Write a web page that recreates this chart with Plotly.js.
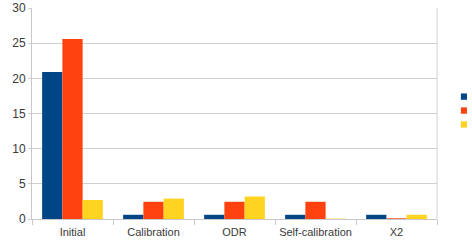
<!DOCTYPE html>
<html><head><meta charset="utf-8">
<script src="https://cdn.plot.ly/plotly-3.0.1.min.js"></script>
<style>html,body{margin:0;padding:0;background:#fff}#chart{width:472px;height:244px}</style>
</head><body><div id="chart"></div>
<script>
const categories = ["Initial", "Calibration", "ODR", "Self-calibration", "X2"];
const series1 = [20.9, 0.6, 0.6, 0.6, 0.6];
const series2 = [25.6, 2.45, 2.45, 2.45, 0.1];
const series3 = [2.7, 2.9, 3.2, 0.05, 0.6];
const seriesNames = ["", "", ""];
const colors = ["#004586", "#ff420e", "#ffd320"];

const data = [series1, series2, series3].map((v, i) => ({
  type: "bar", x: categories, y: v, name: seriesNames[i],
  marker: {color: colors[i], line: {width: 0}}, showlegend: false
}));

const shapes = colors.map((c, i) => ({
  type: "rect", xref: "paper", yref: "paper",
  x0: 1.059, x1: 1.074,
  y0: 0.565 - i * 0.066, y1: 0.565 - i * 0.066 + 0.03,
  fillcolor: c, line: {width: 0}
}));
shapes.push({type: "line", xref: "paper", yref: "paper", x0: 1, x1: 1, y0: 0, y1: 1, line: {color: "#d0d0d0", width: 1}});

const layout = {
  width: 472, height: 244,
  margin: {l: 32, r: 35, t: 8, b: 25},
  paper_bgcolor: "#fff", plot_bgcolor: "#fff",
  font: {family: "Liberation Sans, Arial, sans-serif", size: 11, color: "#3a3a3a"},
  barmode: "group", bargap: 0.25, bargroupgap: 0,
  xaxis: {
    showgrid: false, showline: true, linecolor: "#c8c8c8", linewidth: 1,
    ticks: "outside", tickson: "boundaries", ticklen: 5, tickcolor: "#c8c8c8",
    tickangle: 0, automargin: false, ticklabelstandoff: 3,
    tickfont: {size: 11, color: "#3a3a3a"}, fixedrange: true
  },
  yaxis: {
    range: [0, 30], dtick: 5, showgrid: true, gridcolor: "#d0d0d0",
    showline: true, linecolor: "#c8c8c8", zeroline: false,
    ticks: "outside", ticklen: 3, tickcolor: "#d0d0d0", automargin: false,
    tickfont: {size: 12, color: "#3a3a3a"}, fixedrange: true
  },
  shapes: shapes,
  showlegend: false
};
Plotly.newPlot("chart", data, layout, {displayModeBar: false, staticPlot: true});
</script></body></html>
